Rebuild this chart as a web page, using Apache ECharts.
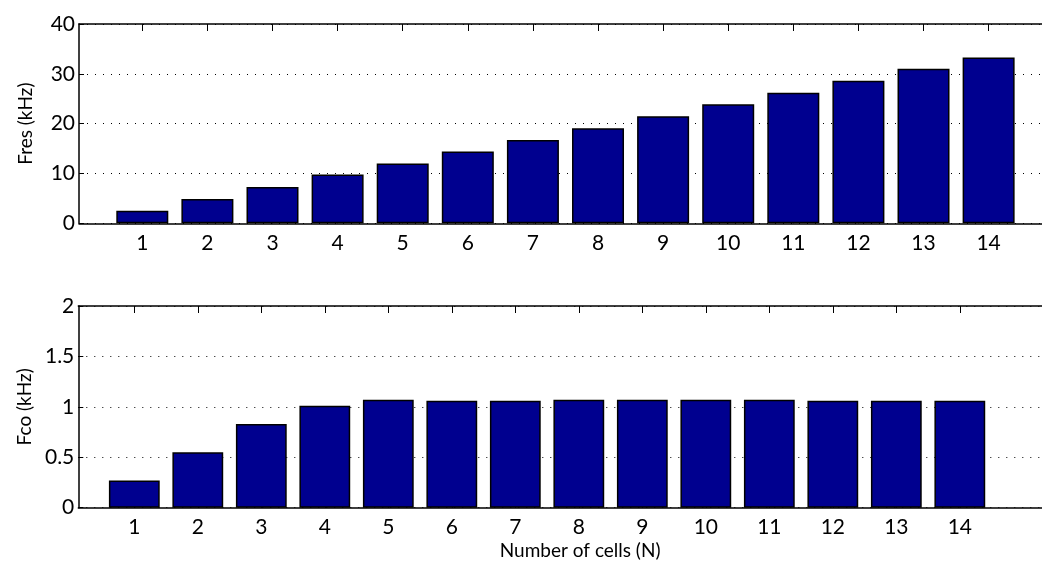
<!DOCTYPE html>
<html>
<head>
<meta charset="utf-8">
<script src="https://cdn.jsdelivr.net/npm/echarts@6/dist/echarts.min.js"></script>
<style>
  html, body { margin: 0; padding: 0; background: #fff; }
  #chart { width: 1042px; height: 568px; }
</style>
</head>
<body>
<div id="chart"></div>
<script>
// Number of cells in the chain
const cells = [1, 2, 3, 4, 5, 6, 7, 8, 9, 10, 11, 12, 13, 14];
// Resonance frequency (kHz)
const fres = [2.5, 4.9, 7.3, 9.8, 12.0, 14.4, 16.7, 19.1, 21.5, 23.9, 26.2, 28.6, 31.0, 33.3];
// Cut-off frequency (kHz)
const fco = [0.27, 0.55, 0.83, 1.01, 1.07, 1.06, 1.06, 1.07, 1.07, 1.07, 1.07, 1.06, 1.06, 1.06];

const FONT = 'Lato';
const FS_TICK = 21;
const FS_NAME = 19;
const BAR = '#00008F';

function xAxes(gridIndex, min, max, showName) {
  return [
    {
      type: 'value', gridIndex, min, max, position: 'bottom',
      name: showName ? 'Number of cells (N)' : '',
      nameLocation: 'middle', nameGap: 34,
      // the plot frame runs past the right edge of the page, so its centre sits a little to the right
      nameTextStyle: { color: '#000', fontFamily: FONT, fontSize: FS_NAME, padding: [0, 0, 0, 40] },
      axisLine: { show: true, lineStyle: { color: '#000', width: 1.5 } },
      axisTick: { show: true, inside: true, length: 7, customValues: cells, lineStyle: { color: '#000' } },
      axisLabel: { customValues: cells, color: '#000', fontFamily: FONT, fontSize: FS_TICK, margin: 9 },
      splitLine: { show: false }
    },
    {
      type: 'value', gridIndex, min, max, position: 'top',
      axisLine: { show: true, onZero: false, lineStyle: { color: '#000', width: 1.5 } },
      axisTick: { show: true, inside: true, length: 7, customValues: cells, lineStyle: { color: '#000' } },
      axisLabel: { show: false },
      splitLine: { show: false }
    }
  ];
}

function yAxis(gridIndex, max, interval, name) {
  return {
    type: 'value', gridIndex, min: 0, max, interval,
    name, nameLocation: 'middle', nameGap: 44,
    nameTextStyle: { color: '#000', fontFamily: FONT, fontSize: FS_NAME },
    axisLine: { show: true, lineStyle: { color: '#000', width: 1.5 } },
    axisTick: { show: true, inside: true, length: 5, lineStyle: { color: '#000' } },
    axisLabel: { color: '#000', fontFamily: FONT, fontSize: FS_TICK, margin: 4 },
    splitLine: { show: true, lineStyle: { color: '#000', width: 1, type: [1, 7] } }
  };
}

function barSeries(idx, values, width) {
  return {
    type: 'bar', xAxisIndex: idx * 2, yAxisIndex: idx,
    data: cells.map((c, i) => [c, values[i]]),
    barWidth: width,
    itemStyle: { color: BAR, borderColor: '#000', borderWidth: 1.5 },
    emphasis: { disabled: true },
    animation: false
  };
}

const chart = echarts.init(document.getElementById('chart'));
chart.setOption({
  backgroundColor: '#fff',
  animation: false,
  grid: [
    { left: 79, top: 24, right: 0, height: 199.3 },
    { left: 78.3, top: 306, right: 0, height: 201.7 }
  ],
  xAxis: [
    ...xAxes(0, 0.0276, 14.82, false),
    ...xAxes(1, 0.118, 15.294, true)
  ],
  yAxis: [
    yAxis(0, 40, 10, 'Fres (kHz)'),
    yAxis(1, 2, 0.5, 'Fco (kHz)')
  ],
  series: [
    barSeries(0, fres, 52),
    barSeries(1, fco, 50.8)
  ]
});
</script>
</body>
</html>
